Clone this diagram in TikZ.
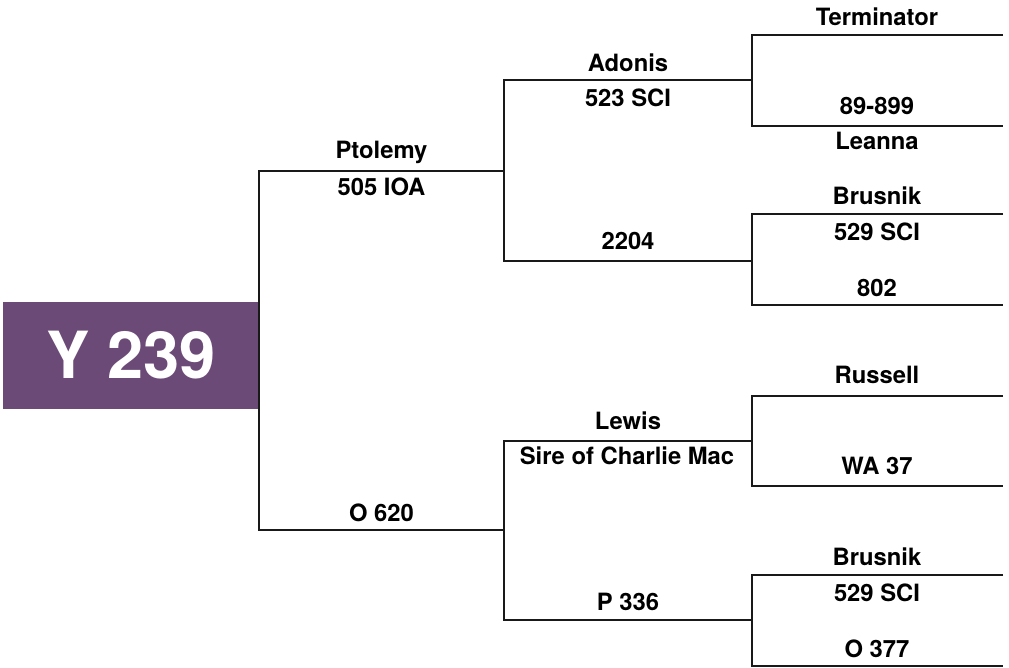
\documentclass[tikz,border=0pt]{standalone}
\usepackage{fontspec}
\setmainfont{TeX Gyre Heros}
\definecolor{plum}{RGB}{108,74,119}
\tikzset{
  lbl/.style={font=\bfseries\fontsize{11.9}{13.5}\selectfont, anchor=base, inner sep=0pt},
  bracket/.style={line width=1pt, black!90},
  rootbox/.style={fill=plum, text=white, font=\bfseries\fontsize{32.5}{36}\selectfont,
    minimum width=128pt, minimum height=53.5pt, inner sep=0pt, outer sep=0pt},
}
\begin{document}
\begin{tikzpicture}[x=0.5pt, y=-0.5pt]
\useasboundingbox (0,0) rectangle (1009,668);

% Y 239
\node[rootbox] (root) at (131,355.5) {Y 239};

% sire / dam
\coordinate (sire) at (504,171);
\coordinate (dam)  at (504,530);
\draw[bracket] (sire) -- (sire -| root.east) -- (dam -| root.east) -- (dam);
\node[lbl] (ptolemy) at (381.5,158.5) {Ptolemy};
\node[lbl] (ioa505)  at (381.5,196)   {505 IOA};
\node[lbl] (o620)    at (381.5,522)   {O 620};

% grandparents
\coordinate (ss) at (752,80);
\coordinate (sd) at (752,261);
\coordinate (ds) at (752,441);
\coordinate (dd) at (752,620);
\draw[bracket] (ss) -| (sire) |- (sd);
\draw[bracket] (ds) -| (dam) |- (dd);
\node[lbl] (adonis) at (628,72)    {Adonis};
\node[lbl] (sci523) at (628,107)   {523 SCI};
\node[lbl] (n2204)  at (628,249.5) {2204};
\node[lbl] (lewis)  at (628,429.5) {Lewis};
\node[lbl] (sire-cm) at (627,465)  {Sire of Charlie Mac};
\node[lbl] (p336)   at (628,611)   {P 336};

% great-grandparents
\coordinate (sss) at (1003,35);
\coordinate (ssd) at (1003,126);
\coordinate (sds) at (1003,214);
\coordinate (sdd) at (1003,305);
\coordinate (dss) at (1003,396);
\coordinate (dsd) at (1003,486);
\coordinate (dds) at (1003,575);
\coordinate (ddd) at (1003,666);
\draw[bracket] (sss) -| (ss) |- (ssd);
\draw[bracket] (sds) -| (sd) |- (sdd);
\draw[bracket] (dss) -| (ds) |- (dsd);
\draw[bracket] (dds) -| (dd) |- (ddd);
\node[lbl] (terminator) at (877,26)    {Terminator};
\node[lbl] (n89899)     at (877,115)   {89-899};
\node[lbl] (leanna)     at (877,150)   {Leanna};
\node[lbl] (brusnik-a)  at (877,205)   {Brusnik};
\node[lbl] (sci529-a)   at (877,240.5) {529 SCI};
\node[lbl] (n802)       at (877,297)   {802};
\node[lbl] (russell)    at (877,383.5) {Russell};
\node[lbl] (wa37)       at (877,475)   {WA 37};
\node[lbl] (brusnik-b)  at (877,566)   {Brusnik};
\node[lbl] (sci529-b)   at (877,602)   {529 SCI};
\node[lbl] (o377)       at (877,658)   {O 377};
\end{tikzpicture}
\end{document}
